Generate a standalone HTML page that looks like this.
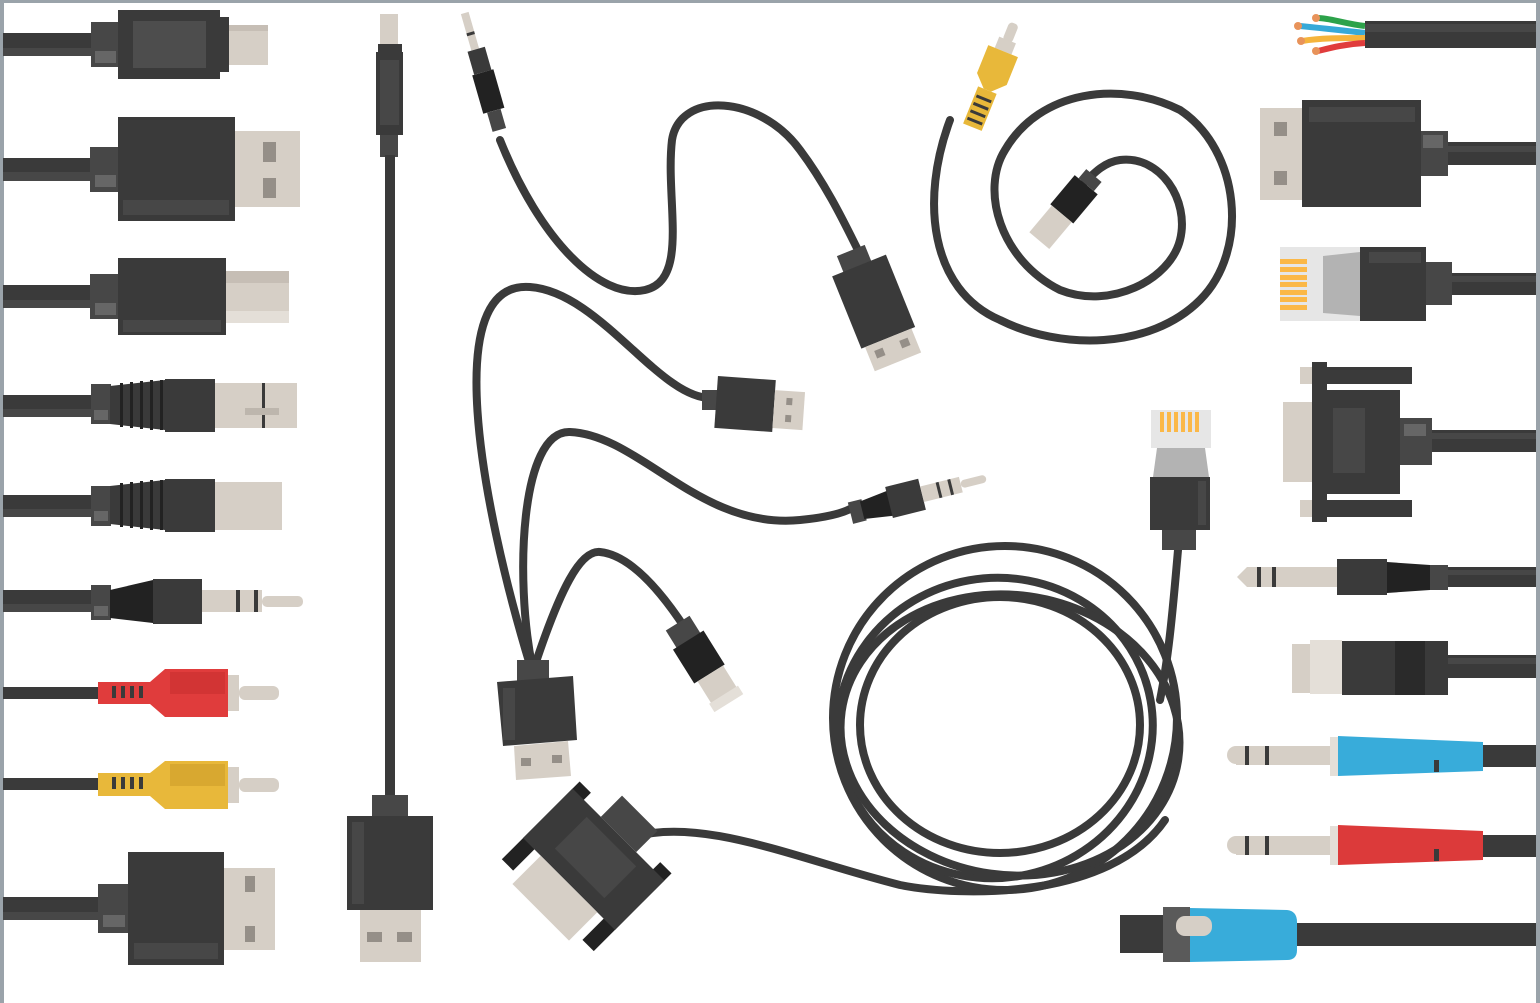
<!DOCTYPE html>
<html><head><meta charset="utf-8"><style>
html,body{margin:0;padding:0;background:#fff;}
svg{display:block;}
</style></head><body>
<svg width="1540" height="1003" viewBox="0 0 1540 1003" xmlns="http://www.w3.org/2000/svg">
<rect width="1540" height="1003" fill="#fff"/>
<rect x="0" y="0" width="1540" height="3" fill="#9aa3aa"/>
<rect x="0" y="0" width="4" height="1003" fill="#9aa3aa"/>
<rect x="1536" y="0" width="4" height="1003" fill="#9aa3aa"/>

<g fill="#3a3a3a">
<rect x="3" y="33" width="90" height="23"/><rect x="3" y="48" width="90" height="8" fill="#474747"/>
<rect x="91" y="22" width="27" height="45" fill="#474747"/><rect x="95" y="51" width="21" height="12" fill="#666"/>
<rect x="118" y="10" width="102" height="69"/><rect x="133" y="21" width="73" height="47" fill="#4d4d4d"/>
<rect x="220" y="17" width="9" height="55"/>
<rect x="229" y="25" width="39" height="40" fill="#d6cfc6"/><rect x="229" y="25" width="39" height="6" fill="#c6beb5"/>
<rect x="3" y="158" width="90" height="23"/><rect x="3" y="172" width="90" height="9" fill="#474747"/>
<rect x="90" y="147" width="28" height="45" fill="#474747"/><rect x="95" y="175" width="21" height="12" fill="#666"/>
<rect x="118" y="117" width="117" height="104"/><rect x="123" y="200" width="106" height="15" fill="#474747"/>
<rect x="235" y="131" width="65" height="76" fill="#d6cfc6"/>
<rect x="263" y="142" width="13" height="20" fill="#958f88"/><rect x="263" y="178" width="13" height="20" fill="#958f88"/>
<rect x="3" y="285" width="90" height="23"/><rect x="3" y="300" width="90" height="8" fill="#474747"/>
<rect x="90" y="274" width="28" height="45" fill="#474747"/><rect x="95" y="303" width="21" height="12" fill="#666"/>
<rect x="118" y="258" width="108" height="77"/><rect x="123" y="320" width="98" height="12" fill="#474747"/>
<rect x="226" y="271" width="63" height="52" fill="#d6cfc6"/><rect x="226" y="271" width="63" height="12" fill="#c6beb5"/><rect x="226" y="311" width="63" height="12" fill="#e4dfd8"/>
<rect x="3" y="395" width="90" height="22"/><rect x="3" y="409" width="90" height="8" fill="#474747"/>
<rect x="91" y="384" width="20" height="40" fill="#474747"/><rect x="94" y="410" width="14" height="10" fill="#666"/>
<path d="M110 386 L165 380 L165 430 L110 424Z"/>
<g fill="#222"><rect x="120" y="383" width="3" height="44"/><rect x="130" y="382" width="3" height="46"/><rect x="140" y="381" width="3" height="48"/><rect x="150" y="380" width="3" height="50"/><rect x="160" y="380" width="3" height="50"/></g>
<rect x="165" y="379" width="50" height="53"/>
<rect x="215" y="383" width="82" height="45" fill="#d6cfc6"/><rect x="262" y="383" width="3" height="45" fill="#3a3a3a"/><rect x="245" y="408" width="34" height="7" fill="#bdb6ad"/>
<rect x="3" y="495" width="90" height="22"/><rect x="3" y="509" width="90" height="8" fill="#474747"/>
<rect x="91" y="486" width="20" height="40" fill="#474747"/><rect x="94" y="511" width="14" height="10" fill="#666"/>
<path d="M110 486 L165 480 L165 530 L110 524Z"/>
<g fill="#222"><rect x="120" y="483" width="3" height="44"/><rect x="130" y="482" width="3" height="46"/><rect x="140" y="481" width="3" height="48"/><rect x="150" y="480" width="3" height="50"/><rect x="160" y="480" width="3" height="50"/></g>
<rect x="165" y="479" width="50" height="53"/>
<rect x="215" y="482" width="67" height="48" fill="#d6cfc6"/>
<rect x="3" y="590" width="90" height="22"/><rect x="3" y="604" width="90" height="8" fill="#474747"/>
<rect x="91" y="585" width="20" height="35" fill="#474747"/><rect x="94" y="606" width="14" height="10" fill="#666"/>
<path d="M110 590 L153 580 L153 623 L110 618Z" fill="#222"/>
<rect x="153" y="579" width="49" height="45"/>
<rect x="202" y="590" width="60" height="22" fill="#d6cfc6"/><rect x="236" y="590" width="4" height="22"/><rect x="254" y="590" width="4" height="22"/>
<rect x="262" y="596" width="41" height="11" rx="5" fill="#d6cfc6"/>
<rect x="3" y="687" width="96" height="12"/>
<path d="M98 682 L150 682 L165 669 L228 669 L228 717 L165 717 L150 704 L98 704Z" fill="#e03c3c"/>
<rect x="170" y="672" width="55" height="22" fill="#d23434"/>
<g fill="#3a3a3a"><rect x="112" y="686" width="4" height="12"/><rect x="121" y="686" width="4" height="12"/><rect x="130" y="686" width="4" height="12"/><rect x="139" y="686" width="4" height="12"/></g>
<rect x="228" y="675" width="11" height="36" fill="#d6cfc6"/><rect x="239" y="686" width="40" height="14" rx="6" fill="#d6cfc6"/>
<rect x="3" y="778" width="96" height="12"/>
<path d="M98 773 L150 773 L165 761 L228 761 L228 809 L165 809 L150 796 L98 796Z" fill="#e8b83a"/>
<rect x="170" y="764" width="55" height="22" fill="#d8a830"/>
<g fill="#3a3a3a"><rect x="112" y="777" width="4" height="12"/><rect x="121" y="777" width="4" height="12"/><rect x="130" y="777" width="4" height="12"/><rect x="139" y="777" width="4" height="12"/></g>
<rect x="228" y="767" width="11" height="36" fill="#d6cfc6"/><rect x="239" y="778" width="40" height="14" rx="6" fill="#d6cfc6"/>
<rect x="3" y="897" width="98" height="23"/><rect x="3" y="912" width="98" height="8" fill="#474747"/>
<rect x="98" y="884" width="30" height="49" fill="#474747"/><rect x="103" y="915" width="22" height="12" fill="#666"/>
<rect x="128" y="852" width="96" height="113"/><rect x="134" y="943" width="84" height="16" fill="#474747"/>
<rect x="224" y="868" width="51" height="82" fill="#d6cfc6"/>
<rect x="245" y="876" width="10" height="16" fill="#958f88"/><rect x="245" y="926" width="10" height="16" fill="#958f88"/>

<rect x="380" y="14" width="18" height="30" fill="#d6cfc6"/>
<rect x="378" y="44" width="24" height="9"/>
<rect x="376" y="52" width="27" height="83"/><rect x="380" y="60" width="19" height="65" fill="#474747"/>
<rect x="380" y="135" width="18" height="22" fill="#474747"/>
<rect x="385" y="155" width="10" height="642"/>
<rect x="372" y="795" width="36" height="22" fill="#474747"/>
<rect x="347" y="816" width="86" height="94"/><rect x="352" y="822" width="12" height="82" fill="#474747"/>
<rect x="360" y="910" width="61" height="52" fill="#d6cfc6"/>
<rect x="367" y="932" width="15" height="10" fill="#958f88"/><rect x="397" y="932" width="15" height="10" fill="#958f88"/>

<path d="M1365 26 C1345 24 1330 18 1318 18" stroke="#2ca24a" stroke-width="6" fill="none"/>
<path d="M1365 33 C1340 30 1320 28 1300 26" stroke="#36a9d8" stroke-width="6" fill="none"/>
<path d="M1365 38 C1340 38 1320 38 1302 41" stroke="#f5b43c" stroke-width="6" fill="none"/>
<path d="M1365 43 C1345 44 1330 48 1318 51" stroke="#e03c3c" stroke-width="6" fill="none"/>
<g fill="#e8935a"><circle cx="1316" cy="18" r="4"/><circle cx="1298" cy="26" r="4"/><circle cx="1301" cy="41" r="4"/><circle cx="1316" cy="51" r="4"/></g>
<rect x="1365" y="21" width="171" height="27"/><rect x="1365" y="24" width="171" height="8" fill="#474747"/>
<rect x="1260" y="108" width="42" height="92" fill="#d6cfc6"/>
<rect x="1274" y="122" width="13" height="14" fill="#958f88"/><rect x="1274" y="171" width="13" height="14" fill="#958f88"/>
<rect x="1302" y="100" width="119" height="107"/><rect x="1309" y="107" width="106" height="15" fill="#474747"/>
<rect x="1421" y="131" width="27" height="45" fill="#474747"/><rect x="1423" y="135" width="20" height="13" fill="#666"/>
<rect x="1448" y="142" width="88" height="23"/><rect x="1448" y="146" width="88" height="6" fill="#474747"/>
<rect x="1280" y="247" width="80" height="74" fill="#e6e6e6"/>
<g fill="#fbb847"><rect x="1280" y="259" width="27" height="5"/><rect x="1280" y="267" width="27" height="5"/><rect x="1280" y="275" width="27" height="5"/><rect x="1280" y="282" width="27" height="5"/><rect x="1280" y="290" width="27" height="5"/><rect x="1280" y="297" width="27" height="5"/><rect x="1280" y="305" width="27" height="5"/></g>
<path d="M1323 256 L1360 252 L1360 316 L1323 313Z" fill="#b3b3b3"/>
<rect x="1360" y="247" width="66" height="74"/><rect x="1369" y="252" width="52" height="11" fill="#474747"/>
<rect x="1426" y="262" width="26" height="43" fill="#474747"/>
<rect x="1452" y="273" width="84" height="22"/><rect x="1452" y="276" width="84" height="6" fill="#474747"/>
<rect x="1300" y="367" width="112" height="17"/><rect x="1300" y="367" width="12" height="17" fill="#d6cfc6"/>
<rect x="1300" y="500" width="112" height="17"/><rect x="1300" y="500" width="12" height="17" fill="#d6cfc6"/>
<rect x="1283" y="402" width="30" height="80" fill="#d6cfc6"/>
<rect x="1312" y="362" width="15" height="160"/>
<rect x="1327" y="390" width="73" height="104"/><rect x="1333" y="408" width="32" height="65" fill="#474747"/>
<rect x="1400" y="418" width="32" height="47" fill="#474747"/><rect x="1404" y="424" width="22" height="12" fill="#666"/>
<rect x="1432" y="430" width="104" height="22"/><rect x="1432" y="433" width="104" height="6" fill="#474747"/>
<path d="M1237 577 L1247 567 L1337 567 L1337 587 L1247 587Z" fill="#d6cfc6"/>
<rect x="1257" y="567" width="4" height="20"/><rect x="1272" y="567" width="4" height="20"/>
<rect x="1337" y="559" width="50" height="36"/><path d="M1387 562 L1430 565 L1430 590 L1387 593Z" fill="#222"/>
<rect x="1430" y="565" width="18" height="25" fill="#474747"/>
<rect x="1448" y="567" width="88" height="20"/><rect x="1448" y="570" width="88" height="5" fill="#474747"/>
<rect x="1292" y="644" width="50" height="49" fill="#d6cfc6"/><rect x="1310" y="640" width="32" height="54" fill="#e4dfd8"/>
<rect x="1342" y="641" width="106" height="54"/><rect x="1395" y="641" width="30" height="54" fill="#2a2a2a"/>
<rect x="1448" y="655" width="88" height="23"/><rect x="1448" y="658" width="88" height="6" fill="#474747"/>
<circle cx="1236" cy="755" r="9" fill="#d6cfc6"/><rect x="1236" y="746" width="94" height="19" fill="#d6cfc6"/>
<rect x="1245" y="746" width="4" height="19"/><rect x="1265" y="746" width="4" height="19"/>
<rect x="1330" y="737" width="8" height="39" fill="#e4dfd8"/>
<path d="M1338 736 L1483 742 L1483 771 L1338 776Z" fill="#38acda"/>
<rect x="1434" y="760" width="5" height="12"/>
<rect x="1483" y="745" width="53" height="22"/>
<circle cx="1236" cy="845" r="9" fill="#d6cfc6"/><rect x="1236" y="836" width="94" height="19" fill="#d6cfc6"/>
<rect x="1245" y="836" width="4" height="19"/><rect x="1265" y="836" width="4" height="19"/>
<rect x="1330" y="826" width="8" height="39" fill="#e4dfd8"/>
<path d="M1338 825 L1483 831 L1483 860 L1338 865Z" fill="#dc3a3a"/>
<rect x="1434" y="849" width="5" height="12"/>
<rect x="1483" y="835" width="53" height="22"/>
<rect x="1120" y="915" width="45" height="38"/>
<rect x="1163" y="907" width="27" height="55" fill="#5a5a5a"/>
<path d="M1190 908 L1287 910 Q1297 911 1297 922 L1297 950 Q1297 960 1287 960 L1190 962Z" fill="#38acda"/>
<rect x="1176" y="916" width="36" height="20" rx="9" fill="#d6cfc6"/>
<rect x="1297" y="923" width="239" height="23"/>
</g>

<g fill="none" stroke="#3a3a3a" stroke-width="8" stroke-linecap="round">
<path d="M500 140 C540 240 600 300 645 290 C690 280 665 200 672 140 C680 90 760 95 800 150 C830 190 850 235 862 258"/>
<path d="M530 665 C480 500 440 280 530 287 C600 292 660 400 712 398"/>
<path d="M532 665 C515 580 520 430 570 432 C640 435 700 530 800 520 C830 517 845 512 852 508"/>
<path d="M535 665 C560 590 580 550 600 552 C630 555 660 590 685 628"/>
<path d="M950 120 C920 200 930 290 1000 320 C1060 350 1150 350 1200 300 C1250 250 1240 150 1180 110 C1120 80 1040 90 1005 150 C980 190 1000 260 1060 290 C1110 310 1170 280 1180 240 C1190 200 1160 155 1120 160 C1105 162 1095 172 1085 182"/>
<path d="M1178 550 C1172 620 1168 660 1160 700"/>
<ellipse cx="1005" cy="718" rx="172" ry="172"/>
<ellipse cx="995" cy="728" rx="158" ry="150" transform="rotate(-10 995 728)"/>
<ellipse cx="1010" cy="735" rx="170" ry="140" transform="rotate(8 1010 735)"/>
<ellipse cx="1000" cy="725" rx="140" ry="128"/>
<path d="M630 838 C700 815 800 860 900 885 C960 897 1110 900 1165 820"/>
</g>

<g fill="#3a3a3a">
<g transform="rotate(-16 485 80)">
<rect x="480" y="10" width="8" height="38" fill="#d6cfc6"/><rect x="480" y="30" width="8" height="3"/>
<rect x="476" y="48" width="18" height="24"/><rect x="474" y="72" width="22" height="40" fill="#222"/><rect x="478" y="112" width="14" height="20" fill="#474747"/>
</g>
<g transform="rotate(-22 877 310)">
<rect x="860" y="245" width="30" height="18" fill="#474747"/>
<rect x="848" y="262" width="58" height="78"/>
<rect x="852" y="340" width="50" height="26" fill="#d6cfc6"/>
<rect x="859" y="347" width="9" height="8" fill="#958f88"/><rect x="886" y="347" width="9" height="8" fill="#958f88"/>
</g>
<rect x="702" y="390" width="16" height="20" fill="#474747"/>
<g transform="rotate(4 745 405)"><rect x="716" y="378" width="58" height="52"/><rect x="774" y="388" width="30" height="38" fill="#d6cfc6"/>
<rect x="786" y="395" width="6" height="7" fill="#958f88"/><rect x="786" y="412" width="6" height="7" fill="#958f88"/></g>
<g transform="rotate(-14 915 495)">
<rect x="848" y="486" width="14" height="22" fill="#474747"/><path d="M860 488 L890 484 L890 510 L860 506Z" fill="#222"/>
<rect x="888" y="480" width="34" height="32"/>
<rect x="922" y="488" width="40" height="16" fill="#d6cfc6"/><rect x="938" y="488" width="3" height="16"/><rect x="950" y="488" width="3" height="16"/>
<rect x="962" y="492" width="26" height="8" rx="4" fill="#d6cfc6"/>
</g>
<g transform="rotate(-32 705 665)">
<rect x="690" y="615" width="28" height="22" fill="#474747"/><rect x="686" y="635" width="36" height="40" fill="#222"/>
<rect x="690" y="675" width="30" height="30" fill="#d6cfc6"/><rect x="688" y="700" width="34" height="10" fill="#e4dfd8"/>
</g>
<rect x="517" y="660" width="32" height="22" fill="#474747"/>
<path d="M497 682 L573 676 L577 740 L503 746Z"/>
<rect x="503" y="688" width="12" height="52" fill="#474747"/>
<path d="M514 746 L568 741 L571 776 L516 780Z" fill="#d6cfc6"/>
<rect x="521" y="758" width="10" height="8" fill="#958f88"/><rect x="552" y="755" width="10" height="8" fill="#958f88"/>
<g transform="rotate(22 975 70)">
<rect x="989" y="12" width="10" height="20" rx="4" fill="#d6cfc6"/><rect x="985" y="30" width="18" height="12" fill="#d6cfc6"/>
<path d="M978 42 L1010 42 L1010 72 L998 84 L990 84 L978 72Z" fill="#e8b83a"/>
<rect x="984" y="84" width="20" height="40" fill="#e8b83a"/>
<g fill="#3a3a3a"><rect x="986" y="92" width="16" height="3"/><rect x="986" y="100" width="16" height="3"/><rect x="986" y="108" width="16" height="3"/><rect x="986" y="116" width="16" height="3"/></g>
</g>
<g transform="rotate(40 1065 210)">
<rect x="1055" y="165" width="20" height="12" fill="#474747"/>
<rect x="1050" y="177" width="30" height="38" fill="#222"/>
<rect x="1052" y="215" width="26" height="35" fill="#d6cfc6"/>
</g>
<rect x="1151" y="410" width="60" height="38" fill="#e6e6e6"/>
<g fill="#fbb847"><rect x="1160" y="412" width="4" height="20"/><rect x="1167" y="412" width="4" height="20"/><rect x="1174" y="412" width="4" height="20"/><rect x="1181" y="412" width="4" height="20"/><rect x="1188" y="412" width="4" height="20"/><rect x="1195" y="412" width="4" height="20"/></g>
<path d="M1157 448 L1205 448 L1209 477 L1153 477Z" fill="#b3b3b3"/>
<rect x="1150" y="477" width="60" height="53"/><rect x="1198" y="481" width="8" height="44" fill="#474747"/>
<rect x="1162" y="530" width="34" height="20" fill="#474747"/>
<g transform="translate(-16 14) rotate(45 585 870)">
<rect x="520" y="790" width="16" height="110" fill="#222"/><rect x="634" y="790" width="16" height="110" fill="#222"/>
<rect x="520" y="800" width="130" height="70"/>
<rect x="545" y="870" width="80" height="40" fill="#d6cfc6"/>
<rect x="560" y="770" width="50" height="30" fill="#474747"/>
<rect x="550" y="810" width="70" height="45" fill="#474747"/>
</g>
</g>
</svg>
</body></html>
